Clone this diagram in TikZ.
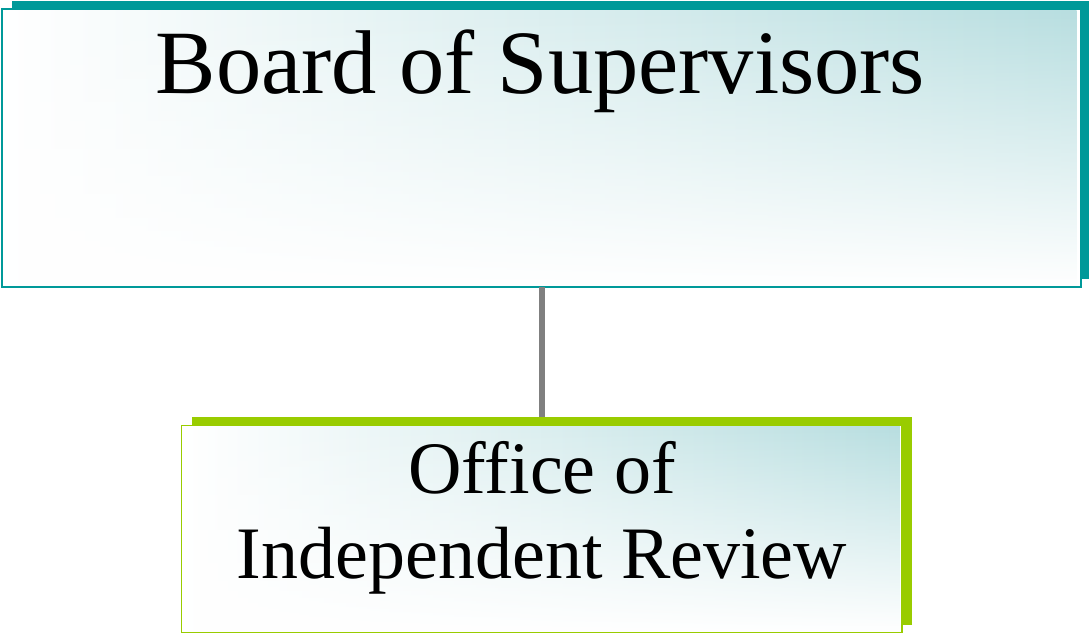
\documentclass[tikz,border=0pt]{standalone}
\usepackage{fontspec}
\setmainfont{Liberation Serif}
\usetikzlibrary{fadings}
\definecolor{tealD}{HTML}{009999}
\definecolor{tealL}{HTML}{B8DEE0}
\definecolor{limeG}{HTML}{99CC00}
\definecolor{connG}{HTML}{808080}
\tikzfading[name=fadedown, top color=transparent!0, middle color=transparent!25, bottom color=transparent!100]
\tikzset{
  bigbox/.style={draw=tealD, line width=2pt, fill=white, minimum width=1079.5pt, minimum height=277.5pt, inner sep=0pt, outer sep=0pt},
  smallbox/.style={draw=limeG, line width=1.5pt, fill=white, minimum width=720.5pt, minimum height=207pt, inner sep=0pt, outer sep=0pt},
  connector/.style={draw=connG, line width=6pt},
  boxshade/.style={left color=white, middle color=tealL!40!white, right color=tealL, path fading=fadedown},
  bigtext/.style={font=\fontsize{90.5}{100}\selectfont, inner sep=0pt, anchor=base},
  smalltext/.style={font=\fontsize{74}{85}\selectfont, inner sep=0pt, anchor=base},
}
\begin{document}
\begin{tikzpicture}[x=1pt,y=-1pt]
\useasboundingbox (0,0) rectangle (1089,634);
% shadows
\fill[tealD] (12,1) rectangle (1089,279);
\fill[limeG] (192,417) rectangle (912,625);
% top box
\node[bigbox] (bos) at (541.25,148.25) {};
\shade[boxshade] ([xshift=1pt,yshift=1pt]bos.south west) rectangle ([xshift=-1pt,yshift=-1pt]bos.north east);
\draw[tealD, line width=2pt] (bos.south west) rectangle (bos.north east);
\node[bigtext] (bost) at (540.5,93) {Board of Supervisors};
% bottom box
\node[smallbox] (oir) at (541.75,529) {};
\shade[boxshade] ([xshift=1pt,yshift=1pt]oir.south west) rectangle ([xshift=-1pt,yshift=-1pt]oir.north east);
\draw[limeG, line width=1.5pt] (oir.south west) rectangle (oir.north east);
\node[smalltext] (oirt1) at (542,493) {Office of};
\node[smalltext] (oirt2) at (542,578) {Independent Review};
% connector
\coordinate (shtop) at (542,417);
\draw[connector] (bos.south -| shtop) -- (shtop);
\end{tikzpicture}
\end{document}
